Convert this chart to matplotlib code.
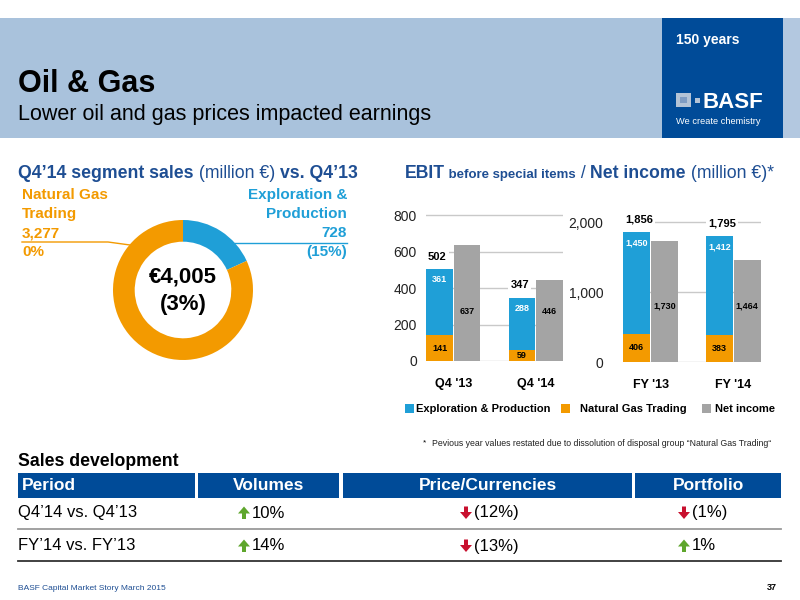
import matplotlib
matplotlib.use("Agg")
import matplotlib.pyplot as plt
from matplotlib.patches import Rectangle, FancyArrow
import numpy as np

plt.rcParams['font.family'] = ['Liberation Sans', 'DejaVu Sans']
NARROW = ['Liberation Sans Narrow', 'Liberation Sans', 'DejaVu Sans']

# ---- data ----
donut_names = ["Exploration &\nProduction", "Natural Gas\nTrading"]
donut_sales = [728, 3277]
donut_change = ["(15%)", "0%"]
total_sales = "€4,005"
total_change = "(3%)"

q_periods = ["Q4 '13", "Q4 '14"]
q_ep = [361, 288]
q_ngt = [141, 59]
q_net = [637, 446]
q_total = [502, 347]

fy_periods = ["FY '13", "FY '14"]
fy_ep = [1450, 1412]
fy_ngt = [406, 383]
fy_net = [1730, 1464]
fy_total = [1856, 1795]

legend_names = ["Exploration & Production", "Natural Gas Trading", "Net income"]

table_cols = ["Period", "Volumes", "Price/Currencies", "Portfolio"]
table_rows = ["Q4’14 vs. Q4’13", "FY’14 vs. FY’13"]
volumes = [10, 14]
price_curr = [-12, -13]
portfolio = [-1, 1]

# colours
BLUE = '#1F9FD7'
ORANGE = '#F39A00'
GRAY = '#A4A4A4'
HEAD = '#1E4E93'
BASF = '#004B98'
BAND = '#A9C2DC'
GRID = '#C9C9C9'
GREEN = '#5EA62C'
RED = '#C8102E'

fig = plt.figure(figsize=(8, 6), dpi=100)
ren = fig.canvas.get_renderer()


def box(x0, y0, x1, y1):
    return [x0 / 800, 1 - y1 / 600, (x1 - x0) / 800, (y1 - y0) / 600]


# overlay in pixel coordinates
ov = fig.add_axes([0, 0, 1, 1])
ov.set_xlim(0, 800)
ov.set_ylim(600, 0)
ov.axis('off')


def runs(x, y, parts, color):
    for s, size, weight in parts:
        t = ov.text(x, y, s, fontsize=size, fontweight=weight, color=color,
                    va='baseline', ha='left')
        x += t.get_window_extent(renderer=ren).width


# header band
ov.add_patch(Rectangle((0, 18), 800, 120, color=BAND, lw=0))
ov.add_patch(Rectangle((783, 18), 17, 120, color='#B3C8E0', lw=0))
ov.add_patch(Rectangle((662, 18), 121, 120, color=BASF, lw=0))
ov.text(18, 92, "Oil & Gas", fontsize=22, fontweight='bold', va='baseline')
ov.text(18, 120, "Lower oil and gas prices impacted earnings", fontsize=15.5, va='baseline')
ov.text(676, 40, "150 years", fontsize=10, fontweight='bold', color='white', va='center')
ov.add_patch(Rectangle((676, 93), 15, 14, color='#B3C3D6', lw=0))
ov.add_patch(Rectangle((680, 97), 7, 6, color='#7F9CC2', lw=0))
ov.add_patch(Rectangle((695, 98), 5, 5, color='#B3C3D6', lw=0))
ov.text(703, 108, "BASF", fontsize=16, fontweight='bold', color='white', va='baseline')
ov.text(676, 121, "We create chemistry", fontsize=6.7, color='white', va='center')

# section headings
runs(18, 178, [("Q4’14 segment sales", 12.7, 'bold'), (" (million €) ", 12.7, 'normal'),
               ("vs. Q4’13", 12.7, 'bold')], HEAD)
runs(405, 178, [("EBIT", 12.7, 'bold'), (" before special items", 9.5, 'bold'),
                (" / ", 12.7, 'normal'), ("Net income", 12.7, 'bold'),
                (" (million €)*", 12.7, 'normal')], HEAD)

# ---- donut ----
axd = fig.add_axes(box(103, 210, 263, 370))
axd.pie(donut_sales, colors=[BLUE, ORANGE], startangle=90, counterclock=False,
        radius=1, wedgeprops=dict(width=0.31, edgecolor='none'))
axd.set_xlim(-80 / 70, 80 / 70)
axd.set_ylim(-80 / 70, 80 / 70)
axd.set_aspect('equal')
axd.text(0, 0.19, total_sales, fontsize=16, fontweight='bold', ha='center', va='center')
axd.text(0, -0.21, total_change, fontsize=16, fontweight='bold', ha='center', va='center')

left_lines = donut_names[1].split("\n") + [f"{donut_sales[1]:,}", donut_change[1]]
right_lines = donut_names[0].split("\n") + [f"{donut_sales[0]:,}", donut_change[0]]
line_y = [195, 214, 233, 252]
for s, y in zip(left_lines, line_y):
    ov.text(22, y, s, fontsize=11, fontweight='bold', color=ORANGE, va='center', ha='left')
for s, y in zip(right_lines, line_y):
    ov.text(347, y, s, fontsize=11, fontweight='bold', color=BLUE, va='center', ha='right')
ov.plot([22, 108, 130], [242, 242, 245], color=ORANGE, lw=1)
ov.plot([233, 347], [243, 243], color=BLUE, lw=1)


# ---- bar charts ----
def stacked(rect, periods, ep, ngt, net, total, ytop, ticks, pad):
    ax = fig.add_axes(rect)
    ax.set_facecolor('none')
    x_ep = np.arange(len(periods)) * 3.0
    x_net = x_ep + 1
    for t in ticks:
        ax.axhline(t, color=GRID, lw=1, zorder=0)
    ax.bar(x_ep, ngt, width=0.97, color=ORANGE, zorder=2)
    ax.bar(x_ep, ep, bottom=ngt, width=0.97, color=BLUE, zorder=2)
    ax.bar(x_net, net, width=0.97, color=GRAY, zorder=2)
    net_y = np.mean(net) / 2
    for i in range(len(periods)):
        ax.text(x_ep[i], ngt[i] / 2, f"{ngt[i]:,}", fontsize=6.5, fontweight='bold',
                ha='center', va='center', zorder=3)
        ax.annotate(f"{ep[i]:,}", (x_ep[i], total[i]), xytext=(0, -7.5),
                    textcoords='offset points', fontsize=6.5, fontweight='bold',
                    color='white', ha='center', va='center', zorder=3)
        ax.text(x_net[i], net_y, f"{net[i]:,}", fontsize=6.5, fontweight='bold',
                ha='center', va='center', zorder=3)
        ax.annotate(f"{total[i]:,}", (x_ep[i] - 0.5, total[i]), xytext=(1.5, 9),
                    textcoords='offset points', fontsize=8, fontweight='bold',
                    ha='left', va='center', zorder=4,
                    bbox=dict(facecolor='white', edgecolor='none', pad=1.5))
    ax.set_xlim(-0.5, 3 * len(periods) - 1.5)
    ax.set_ylim(0, ytop)
    ax.set_yticks(ticks, [f"{t:,}" for t in ticks])
    ax.set_xticks(x_ep + 0.5, periods)
    ax.tick_params(axis='y', length=0, pad=pad, labelsize=10, labelcolor='#222222')
    ax.tick_params(axis='x', length=0, pad=12, labelsize=9)
    for lab in ax.get_xticklabels():
        lab.set_fontweight('bold')
    for s in ax.spines.values():
        s.set_visible(False)
    return ax


stacked(box(426, 205, 563, 361), q_periods, q_ep, q_ngt, q_net, q_total,
        855, [0, 200, 400, 600, 800], 6.5)
stacked(box(623, 205, 761, 362), fy_periods, fy_ep, fy_ngt, fy_net, fy_total,
        2243, [0, 1000, 2000], 14)

# legend
leg_x = [(405, 416), (561, 580), (702, 715)]
for (sx, tx), name, c in zip(leg_x, legend_names, [BLUE, ORANGE, GRAY]):
    ov.add_patch(Rectangle((sx, 404), 9, 9, color=c, lw=0))
    ov.text(tx, 409, name, fontsize=8, fontweight='bold', va='center', ha='left')

ov.text(423, 443, "*", fontsize=6, va='center', family=NARROW)
ov.text(432, 443, "Pevious year values restated due to dissolution of disposal group “Natural Gas Trading“",
        fontsize=6.35, va='center', family=NARROW, color='#222222')

# ---- sales development table ----
ov.text(18, 461, "Sales development", fontsize=12.7, fontweight='bold', va='center')
cells = [(18, 195), (198, 339), (343, 632), (635, 781)]
aligns = ['left', 'center', 'center', 'center']
for (x0, x1), name, al in zip(cells, table_cols, aligns):
    ov.add_patch(Rectangle((x0, 473), x1 - x0, 25, color=BASF, lw=0))
    tx = x0 + 4 if al == 'left' else (x0 + x1) / 2
    ov.text(tx, 486, name, fontsize=12.5, fontweight='bold', color='white',
            ha=al, va='center', family=NARROW)

row_y = [513, 546]
arrow_x = [244, 466, 684]
for r, (label, y) in enumerate(zip(table_rows, row_y)):
    ov.text(18, y, label, fontsize=12, va='center', family=NARROW)
    for ax_x, v in zip(arrow_x, [volumes[r], price_curr[r], portfolio[r]]):
        if v > 0:
            ov.add_patch(FancyArrow(ax_x, y + 6, 0, -12.5, width=4, head_width=12,
                                    head_length=7, length_includes_head=True,
                                    color=GREEN, lw=0))
            s = f"{v}%"
        else:
            ov.add_patch(FancyArrow(ax_x, y - 6.5, 0, 12.5, width=4, head_width=12,
                                    head_length=7, length_includes_head=True,
                                    color=RED, lw=0))
            s = f"({-v}%)"
        ov.text(ax_x + 8, y, s, fontsize=12, va='center', family=NARROW)
ov.plot([18, 781], [529, 529], color='#9A9A9A', lw=1.3)
ov.plot([18, 781], [561, 561], color='#333333', lw=1.3)

# footer
ov.text(18, 589, "BASF Capital Market Story March 2015", fontsize=6, color=HEAD,
        va='center', family=NARROW)
ov.text(777, 588, "37", fontsize=6.5, fontweight='bold', va='center', ha='right')

fig.savefig("out.png", dpi=100)
